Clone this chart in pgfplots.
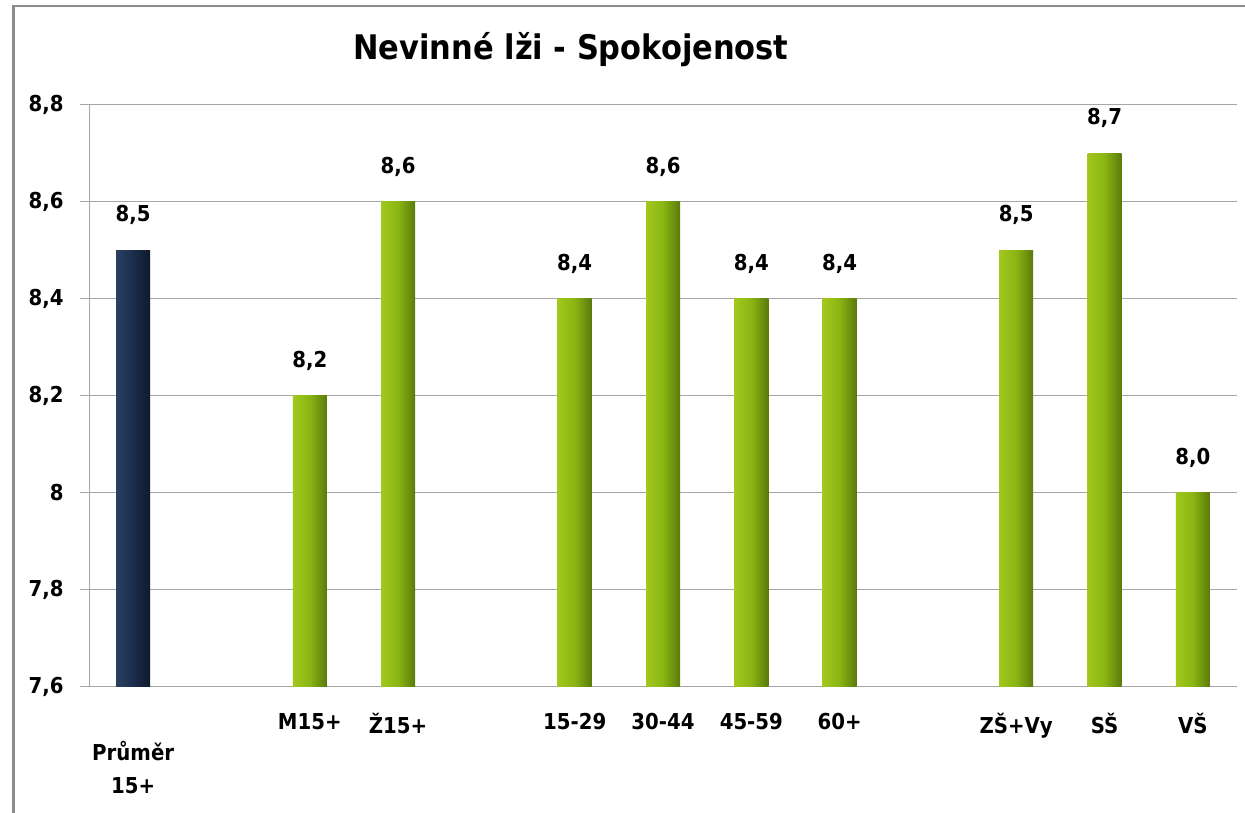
\documentclass[border=0pt]{standalone}
\usepackage{pgfplots}
\pgfplotsset{compat=1.18}
\usepackage{fontspec}
\setmainfont{DejaVu Sans Condensed}[BoldFont={DejaVu Sans Condensed Bold}]
\definecolor{bordergray}{HTML}{8C8C8C}
\definecolor{gridgray}{HTML}{A6A6A6}
\definecolor{gL}{HTML}{A2C81E}
\definecolor{gM}{HTML}{8AB512}
\definecolor{gR}{HTML}{5A7A0A}
\definecolor{nL}{HTML}{2A4062}
\definecolor{nM}{HTML}{1B2D4B}
\definecolor{nR}{HTML}{0E192C}
\pgfplotsset{
  gbar/.style={draw=none, left color=gL, right color=gR, middle color=gM},
  nbar/.style={draw=none, left color=nL, right color=nR, middle color=nM},
}
\begin{document}
\begin{tikzpicture}[x=1bp,y=1bp]
\useasboundingbox (0,0) rectangle (1245,813);
\draw[line width=2.5bp, color=bordergray] (13.7,0) -- (13.7,807) -- (1246,807);
\node[anchor=base, font=\fontsize{34}{40}\selectfont\bfseries] at (571,753) {Nevinné lži - Spokojenost};
\begin{axis}[
  at={(89bp,126bp)}, anchor=south west,
  scale only axis, width=1148bp, height=582bp,
  ymin=7.6, ymax=8.8,
  ytick={7.6,7.8,8,8.2,8.4,8.6,8.8},
  yticklabels={{7,6},{7,8},{8},{8,2},{8,4},{8,6},{8,8}},
  xmin=-0.5, xmax=12.5,
  xtick={0,...,12},
  xticklabels={{\rule{0pt}{14bp}\\Průměr\\15+},{},{M15+},{Ž15+},{},{15-29},{30-44},{45-59},{60+},{},{ZŠ+Vy},{SŠ},{VŠ}},
  minor xtick={-0.5,0.5,...,12.5},
  axis x line*=bottom, axis y line*=left,
  axis line style={gridgray, line width=1bp, -},
  x tick style={draw=none},
  minor x tick style={gridgray, line width=1bp},
  y tick style={gridgray, line width=1bp},
  tick align=outside,
  major tick length=9bp, minor tick length=9bp,
  ymajorgrids, grid style={gridgray, line width=1bp},
  ticklabel style={font=\fontsize{22}{33}\selectfont\bfseries},
  xticklabel style={align=center, yshift=-14bp},
  yticklabel style={xshift=-13bp},
  ybar, bar width=34bp, bar shift=0pt,
  nodes near coords,
  point meta=y,
  nodes near coords style={font=\fontsize{22}{26}\selectfont\bfseries,
    /pgf/number format/assume math mode=true,
    /pgf/number format/fixed, /pgf/number format/fixed zerofill,
    /pgf/number format/precision=1, /pgf/number format/use comma},
  every node near coord/.append style={yshift=22bp},
  clip=false,
]
\addplot[nbar] coordinates {(0,8.5)};
\addplot[gbar] coordinates {(2,8.2)};
\addplot[gbar] coordinates {(3,8.6)};
\addplot[gbar] coordinates {(5,8.4)};
\addplot[gbar] coordinates {(6,8.6)};
\addplot[gbar] coordinates {(7,8.4)};
\addplot[gbar] coordinates {(8,8.4)};
\addplot[gbar] coordinates {(10,8.5)};
\addplot[gbar] coordinates {(11,8.7)};
\addplot[gbar] coordinates {(12,8.0)};
\end{axis}
\end{tikzpicture}
\end{document}
